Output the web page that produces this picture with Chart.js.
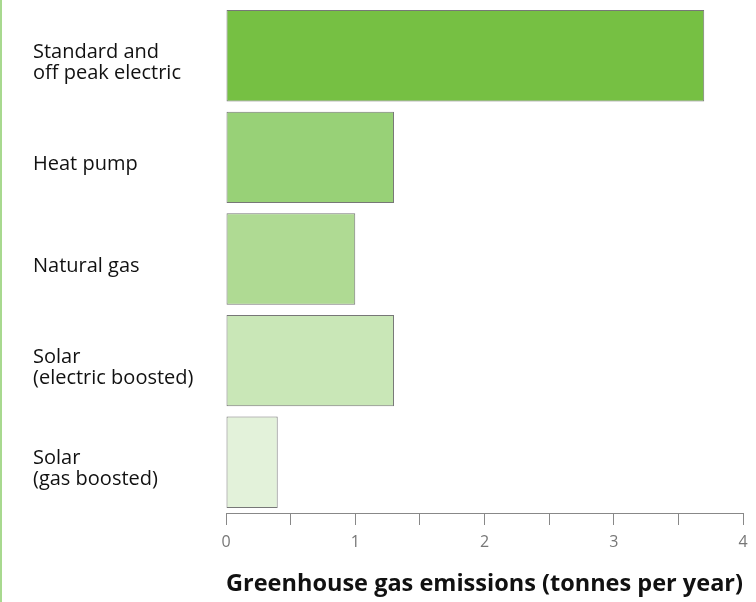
<!DOCTYPE html>
<html>
<head>
<meta charset="utf-8">
<script src="https://cdn.jsdelivr.net/npm/chart.js@4/dist/chart.umd.min.js"></script>
<style>
  html, body { margin: 0; padding: 0; background: #fff; }
  #wrap { position: relative; width: 754px; height: 602px; border-left: 2px solid #a8d98f; }
</style>
</head>
<body>
<div id="wrap"><canvas id="myChart" width="754" height="602"></canvas></div>
<script>
// system types on the y axis
const categories = [
  ['Standard and', 'off peak electric'],
  'Heat pump',
  'Natural gas',
  ['Solar', '(electric boosted)'],
  ['Solar', '(gas boosted)'],
];
// greenhouse gas emissions, tonnes per year
const emissions = [3.7, 1.3, 1.0, 1.3, 0.4];
const barColours = ['#76c043', '#98d177', '#afda93', '#c9e7b7', '#e3f2da'];
const tickLabels = [0, 1, 2, 3, 4];

const ctx = document.getElementById('myChart').getContext('2d');

new Chart(ctx, {
  type: 'bar',
  data: {
    labels: categories,
    datasets: [
      {
        label: 'Greenhouse gas emissions',
        data: emissions,
        backgroundColor: barColours,
        borderColor: '#777',
        borderWidth: 1,
        borderSkipped: false,
        barPercentage: 0.9,
        categoryPercentage: 1,
      },
    ],
  },
  options: {
    indexAxis: 'y',
    responsive: false,
    animation: false,
    layout: { padding: { left: 31, right: 13, top: 5, bottom: 3 } },
    plugins: {
      legend: { display: false },
      tooltip: { enabled: false },
    },
    scales: {
      x: {
        min: 0,
        max: 4,
        ticks: {
          stepSize: 0.5,
          color: '#777',
          font: { family: 'Open Sans', size: 16 },
          padding: 8,
          maxRotation: 0,
          autoSkip: false,
          callback: (v) => (tickLabels.includes(v) ? String(v) : ''),
        },
        grid: {
          drawOnChartArea: false,
          drawTicks: true,
          tickLength: 12,
          color: '#888',
        },
        border: { color: '#888', width: 1 },
        title: {
          display: true,
          text: 'Greenhouse gas emissions (tonnes per year)',
          color: '#111',
          font: { family: 'Open Sans', size: 24, weight: 'bold' },
          padding: { top: 10, bottom: 0 },
        },
      },
      y: {
        ticks: {
          crossAlign: 'far',
          labelOffset: 7,
          color: '#111',
          font: { family: 'Open Sans', size: 20, lineHeight: 1.05 },
        },
        grid: { display: false },
        border: { display: false },
        afterFit: (axis) => {
          axis.width = 193;
          axis.paddingTop = 0;
          axis.paddingBottom = 0;
        },
      },
    },
  },
});
</script>
</body>
</html>
